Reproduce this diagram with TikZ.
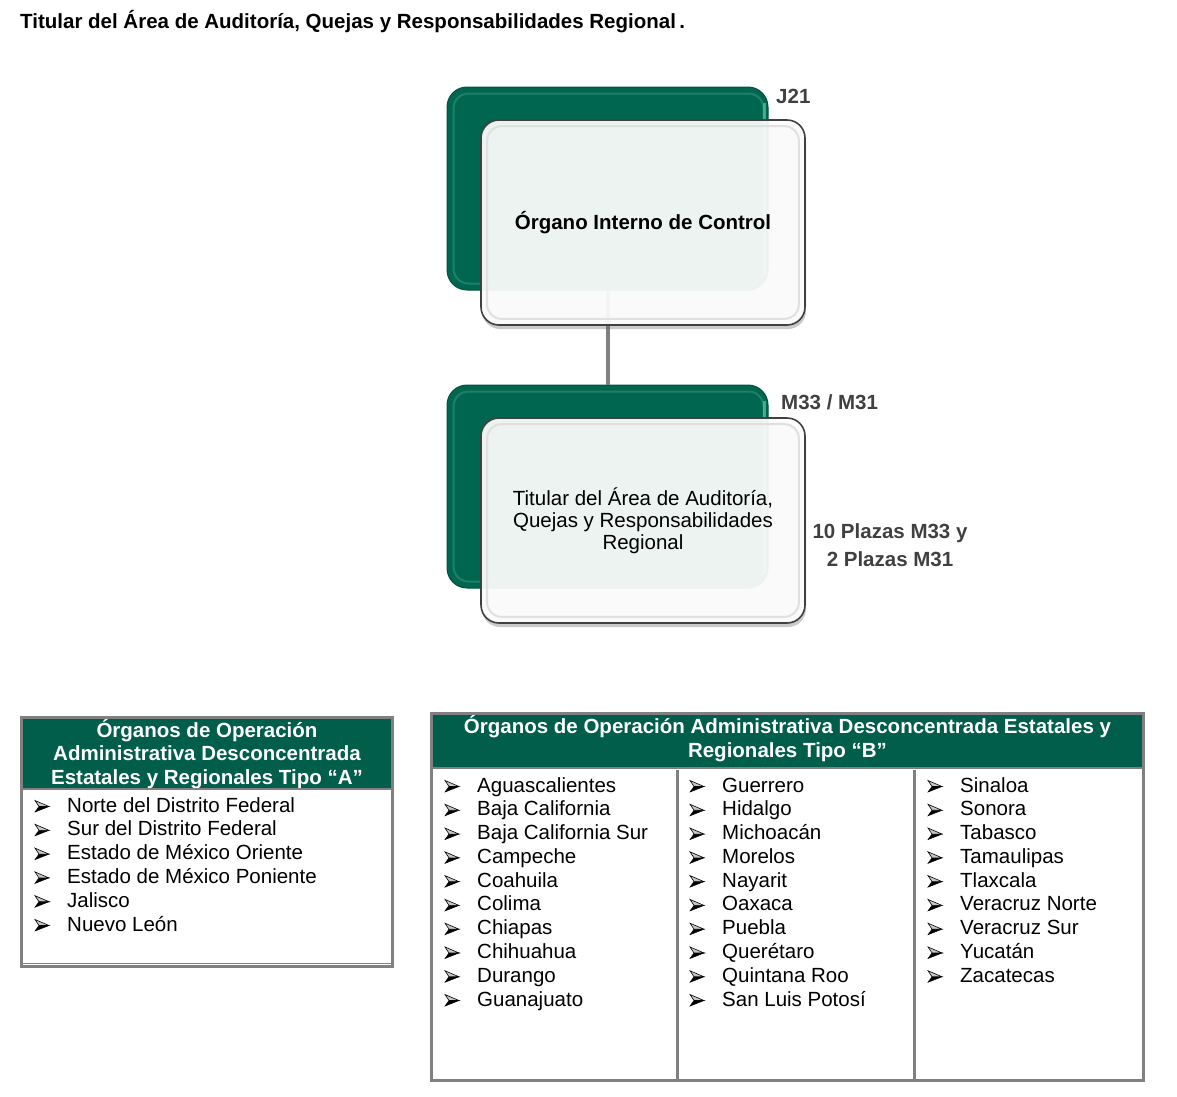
\documentclass[tikz,border=0pt]{standalone}
\usepackage{fontspec}
\setmainfont{Liberation Sans}
\usetikzlibrary{shadows}
\definecolor{dgreen}{HTML}{006650}
\definecolor{hgreen}{HTML}{005E4A}
\definecolor{lgreen}{HTML}{5CC4A2}
\definecolor{bord}{HTML}{808080}
\definecolor{lab}{HTML}{404040}
\newcommand\fsz{\fontsize{20.5}{23.5}\selectfont}
\begin{document}
\begin{tikzpicture}[x=1pt,y=-1pt,
  every node/.style={font=\fsz, inner sep=0pt},
  gbox/.style={fill=dgreen, draw=dgreen!80!black, line width=1pt, rounded corners=20pt, minimum width=321pt, minimum height=203pt},
  wbox/.style={fill=white, fill opacity=0.92, text opacity=1, draw=black!75, line width=1.6pt, rounded corners=18pt,
     minimum width=324pt, minimum height=205pt, align=center,
     drop shadow={opacity=0.35, shadow xshift=1pt, shadow yshift=-4pt, fill=black!60}},
  lbl/.style={font=\fsz\bfseries, text=lab},
  frame/.style={draw=bord, line width=3pt},
  hdr/.style={fill=hgreen, text=white, font=\fsz\bfseries, align=center},
  item/.style={anchor=base west},
  bul/.pic={\filldraw[black, line width=0.5pt] (7,0.5) -- (-3,0.5) -- (-7,6) -- cycle;
            \filldraw[fill=gray!45, draw=black, line width=0.6pt] (7,0.5) -- (-7,-5.5) -- (-3,0.5) -- cycle;}
]
\useasboundingbox (0,0) rectangle (1177,1096);

% title
\node[font=\fsz\bfseries, anchor=base west] (title) at (20,28) {Titular del Área de Auditoría, Quejas y Responsabilidades Regional\,.};

% green back boxes
\node[gbox] (g1) at (607.5,188.5) {};
\node[gbox] (g2) at (607.5,486.5) {};
\foreach \g in {g1,g2}{
  \draw[lgreen, line width=2pt, opacity=0.3, rounded corners=15pt] ([shift={(7,7)}]\g.north west) rectangle ([shift={(-5,-7)}]\g.south east);
  \draw[lgreen, line width=3pt, opacity=0.7] ([shift={(-4,16)}]\g.north east) -- ([shift={(-4,-16)}]\g.south east);
}
% connector
\draw[bord, line width=4pt] (g1.south) -- (g2.north);

% white front boxes
\node[wbox, font=\fsz\bfseries] (w1) at (643,222.5) {Órgano Interno de Control};
\node[wbox, font=\fontsize{20.5}{22}\selectfont] (w2) at (643,520.5) {Titular del Área de Auditoría,\\Quejas y Responsabilidades\\Regional};
\foreach \w in {w1,w2}{
  \draw[black!12, line width=2pt, rounded corners=14pt] ([shift={(7,7)}]\w.north west) rectangle ([shift={(-7,-7)}]\w.south east);
}

% labels
\node[lbl, anchor=west] (j21) at (776,96) {J21};
\node[lbl, anchor=west] (m33) at (781,402) {M33 / M31};
\node[lbl, align=center, font=\fontsize{20.5}{28}\selectfont\bfseries] (plazas) at (890,545) {10 Plazas M33 y\\2 Plazas M31};

% Table A
\node[hdr, minimum width=368pt, minimum height=70pt] (hA) at (207,754) {Órganos de Operación\\Administrativa Desconcentrada\\Estatales y Regionales Tipo “A”};
\node[frame, minimum width=371pt, minimum height=249pt] (tA) at (207,842) {};
\draw[bord, line width=2.5pt] (tA.west |- hA.south) -- (tA.east |- hA.south);
\draw[bord, line width=1.5pt] ([yshift=4.5pt]tA.south west) -- ([yshift=4.5pt]tA.south east);
\foreach \t [count=\i] in {Norte del Distrito Federal, Sur del Distrito Federal, Estado de México Oriente, Estado de México Poniente, Jalisco, Nuevo León}{
  \node[item] (a\i) at (67,{812+23.8*(\i-1)}) {\t};
  \pic at (42,{806+23.8*(\i-1)}) {bul};
}

% Table B
\node[hdr, minimum width=709pt, minimum height=54pt] (hB) at (787.5,741) {};
\node[text=white, font=\fsz\bfseries, align=center] (hBt) at (787.5,738.5) {Órganos de Operación Administrativa Desconcentrada Estatales y\\Regionales Tipo “B”};
\node[frame, minimum width=712pt, minimum height=367pt] (tB) at (787.5,897) {};
\draw[bord, line width=2.5pt] (tB.west |- hB.south) -- (tB.east |- hB.south);
\coordinate (c1) at (677,770);
\coordinate (c2) at (914.5,770);
\draw[bord, line width=3pt] (c1) -- (c1 |- tB.south);
\draw[bord, line width=3pt] (c2) -- (c2 |- tB.south);
\foreach \t [count=\i] in {Aguascalientes, Baja California, Baja California Sur, Campeche, Coahuila, Colima, Chiapas, Chihuahua, Durango, Guanajuato}{
  \node[item] (b\i) at (477,{792+23.78*(\i-1)}) {\t};
  \pic at (452,{786+23.78*(\i-1)}) {bul};
}
\foreach \t [count=\i] in {Guerrero, Hidalgo, Michoacán, Morelos, Nayarit, Oaxaca, Puebla, Querétaro, Quintana Roo, San Luis Potosí}{
  \node[item] (c\i) at (722,{792+23.78*(\i-1)}) {\t};
  \pic at (697,{786+23.78*(\i-1)}) {bul};
}
\foreach \t [count=\i] in {Sinaloa, Sonora, Tabasco, Tamaulipas, Tlaxcala, Veracruz Norte, Veracruz Sur, Yucatán, Zacatecas}{
  \node[item] (d\i) at (960,{792+23.78*(\i-1)}) {\t};
  \pic at (935,{786+23.78*(\i-1)}) {bul};
}
\end{tikzpicture}
\end{document}
